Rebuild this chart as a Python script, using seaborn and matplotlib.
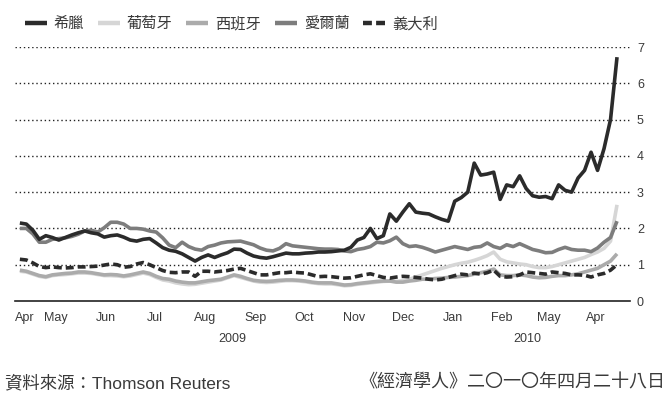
import numpy as np
import pandas as pd
import matplotlib
matplotlib.use("Agg")
import matplotlib.pyplot as plt
from matplotlib.lines import Line2D
import seaborn as sns

# ---------------- data ----------------
dates = pd.date_range("2009-04-24", "2010-04-27", freq="4D")

greece = [2.15, 2.12, 1.95, 1.70, 1.80, 1.75, 1.68, 1.75, 1.82, 1.88,
          1.93, 1.88, 1.85, 1.76, 1.80, 1.82, 1.76, 1.68, 1.65, 1.70,
          1.72, 1.60, 1.47, 1.40, 1.37, 1.30, 1.20, 1.10, 1.20, 1.27,
          1.20, 1.27, 1.33, 1.43, 1.42, 1.32, 1.24, 1.20, 1.18, 1.22,
          1.27, 1.32, 1.30, 1.30, 1.32, 1.33, 1.35, 1.35, 1.36, 1.38,
          1.40, 1.48, 1.68, 1.75, 2.00, 1.72, 1.80, 2.40, 2.20, 2.45,
          2.68, 2.45, 2.42, 2.40, 2.32, 2.25, 2.20, 2.75, 2.85, 3.00,
          3.80, 3.47, 3.50, 3.55, 2.80, 3.20, 3.15, 3.45, 3.10, 2.90,
          2.86, 2.88, 2.82, 3.20, 3.05, 3.00, 3.39, 3.60, 4.10, 3.60,
          4.20, 5.00, 6.72]

portugal = [0.82, 0.80, 0.74, 0.68, 0.65, 0.70, 0.72, 0.73, 0.75, 0.77,
            0.77, 0.76, 0.73, 0.70, 0.70, 0.69, 0.67, 0.69, 0.73, 0.77,
            0.73, 0.65, 0.58, 0.55, 0.50, 0.47, 0.45, 0.46, 0.49, 0.52,
            0.55, 0.58, 0.64, 0.70, 0.65, 0.60, 0.55, 0.52, 0.51, 0.52,
            0.54, 0.56, 0.56, 0.55, 0.53, 0.50, 0.48, 0.47, 0.47, 0.45,
            0.42, 0.43, 0.46, 0.48, 0.50, 0.52, 0.54, 0.55, 0.54, 0.56,
            0.60, 0.66, 0.72, 0.78, 0.84, 0.90, 0.95, 1.00, 1.04, 1.07,
            1.12, 1.18, 1.25, 1.35, 1.15, 1.08, 1.05, 1.02, 1.00, 0.95,
            0.92, 0.92, 0.95, 1.00, 1.05, 1.10, 1.15, 1.20, 1.28, 1.35,
            1.45, 1.65, 2.65]

spain = [0.85, 0.82, 0.76, 0.70, 0.67, 0.72, 0.74, 0.76, 0.77, 0.80,
         0.80, 0.78, 0.75, 0.72, 0.73, 0.72, 0.69, 0.72, 0.76, 0.80,
         0.76, 0.68, 0.62, 0.60, 0.55, 0.52, 0.50, 0.50, 0.53, 0.56,
         0.58, 0.60, 0.66, 0.72, 0.68, 0.62, 0.57, 0.55, 0.54, 0.55,
         0.57, 0.58, 0.58, 0.57, 0.55, 0.52, 0.50, 0.50, 0.50, 0.47,
         0.44, 0.45, 0.48, 0.50, 0.52, 0.54, 0.55, 0.55, 0.52, 0.52,
         0.55, 0.57, 0.60, 0.60, 0.62, 0.63, 0.65, 0.66, 0.68, 0.70,
         0.74, 0.78, 0.82, 0.88, 0.72, 0.70, 0.70, 0.72, 0.70, 0.66,
         0.64, 0.65, 0.68, 0.70, 0.70, 0.72, 0.75, 0.80, 0.85, 0.90,
         1.00, 1.10, 1.30]

ireland = [2.00, 2.00, 1.85, 1.62, 1.62, 1.70, 1.72, 1.74, 1.78, 1.84,
           1.93, 1.95, 1.90, 2.02, 2.17, 2.17, 2.12, 2.00, 2.00, 1.98,
           1.93, 1.90, 1.74, 1.54, 1.47, 1.62, 1.50, 1.43, 1.40, 1.50,
           1.54, 1.60, 1.63, 1.64, 1.65, 1.60, 1.55, 1.46, 1.40, 1.38,
           1.45, 1.58, 1.52, 1.50, 1.48, 1.46, 1.44, 1.43, 1.43, 1.42,
           1.38, 1.36, 1.42, 1.45, 1.50, 1.62, 1.60, 1.66, 1.76, 1.58,
           1.50, 1.52, 1.48, 1.42, 1.35, 1.40, 1.45, 1.50, 1.46, 1.42,
           1.48, 1.50, 1.60, 1.50, 1.45, 1.55, 1.50, 1.58, 1.50, 1.42,
           1.38, 1.33, 1.34, 1.42, 1.48, 1.42, 1.40, 1.40, 1.36, 1.46,
           1.62, 1.75, 2.20]

italy = [1.15, 1.13, 1.05, 0.95, 0.92, 0.94, 0.92, 0.91, 0.92, 0.94,
         0.94, 0.95, 0.96, 0.99, 1.02, 1.00, 0.93, 0.95, 1.02, 1.06,
         1.00, 0.92, 0.84, 0.79, 0.78, 0.80, 0.80, 0.68, 0.82, 0.82,
         0.80, 0.82, 0.84, 0.88, 0.90, 0.84, 0.78, 0.72, 0.72, 0.75,
         0.78, 0.78, 0.80, 0.78, 0.77, 0.72, 0.67, 0.68, 0.67, 0.65,
         0.63, 0.64, 0.68, 0.72, 0.75, 0.70, 0.65, 0.63, 0.66, 0.68,
         0.67, 0.65, 0.63, 0.60, 0.58, 0.60, 0.65, 0.70, 0.74, 0.72,
         0.77, 0.74, 0.78, 0.85, 0.68, 0.66, 0.67, 0.72, 0.80, 0.78,
         0.76, 0.74, 0.80, 0.78, 0.76, 0.72, 0.72, 0.71, 0.66, 0.72,
         0.76, 0.85, 1.00]

series_names = ["希臘", "葡萄牙", "西班牙", "愛爾蘭", "義大利"]
month_ticks = ["2009-05-01", "2009-06-01", "2009-07-01", "2009-08-01",
               "2009-09-01", "2009-10-01", "2009-11-01", "2009-12-01",
               "2010-01-01", "2010-02-01", "2010-03-01", "2010-04-01"]
month_labels = ["Apr", "May", "Jun", "Jul", "Aug", "Sep", "Oct", "Nov",
                "Dec", "Jan", "Feb", "May", "Apr"]
label_dates = ["2009-04-27", "2009-05-16", "2009-06-16", "2009-07-16",
               "2009-08-16", "2009-09-16", "2009-10-16", "2009-11-16",
               "2009-12-16", "2010-01-16", "2010-02-15", "2010-03-16",
               "2010-04-14"]
y_ticks = [0, 1, 2, 3, 4, 5, 6, 7]
years = ["2009", "2010"]
source_text = "資料來源：Thomson Reuters"
credit_text = "《經濟學人》二〇一〇年四月二十八日"

# ---------------- style ----------------
sns.set_theme(style="white")
plt.rcParams["font.family"] = ["Liberation Sans", "Noto Sans CJK TC", "DejaVu Sans"]
txt_color = "#3a3a3a"

df = pd.DataFrame({"date": dates, "希臘": greece, "葡萄牙": portugal,
                   "西班牙": spain, "愛爾蘭": ireland, "義大利": italy})

fig = plt.figure(figsize=(6.72, 4.01), dpi=100)
ax = fig.add_axes([15 / 672, 100 / 401, 615 / 672, 254 / 401])

styles = {
    "希臘": dict(color="#2b2b2b", dashes=None, z=6),
    "葡萄牙": dict(color="#d6d6d6", dashes=None, z=2),
    "西班牙": dict(color="#ababab", dashes=None, z=3),
    "愛爾蘭": dict(color="#7d7d7d", dashes=None, z=4),
    "義大利": dict(color="#2b2b2b", dashes=(2.2, 1.1), z=5),
}
lw = 2.6
for name in ["葡萄牙", "西班牙", "愛爾蘭", "義大利", "希臘"]:
    st = styles[name]
    sns.lineplot(data=df, x="date", y=name, ax=ax, color=st["color"],
                 linewidth=lw, zorder=st["z"], legend=False)
    line = ax.lines[-1]
    line.set_solid_capstyle("butt")
    if st["dashes"] is not None:
        line.set_dashes(st["dashes"])
        line.set_dash_capstyle("butt")

# grid lines
for yv in y_ticks[1:]:
    ax.axhline(yv, color="#222222", linestyle=(0, (1, 2)), linewidth=1.0, zorder=1)

ax.set_ylim(0, 7)
ax.set_xlim(pd.Timestamp("2009-04-21"), pd.Timestamp("2010-05-05"))

for s in ["top", "left", "right"]:
    ax.spines[s].set_visible(False)
ax.spines["bottom"].set_color("#222222")
ax.spines["bottom"].set_linewidth(1.2)

ax.yaxis.tick_right()
ax.set_yticks(y_ticks)
ax.set_yticklabels([str(v) for v in y_ticks])
ax.tick_params(axis="y", length=0, pad=5, labelsize=9, labelcolor=txt_color)

ax.set_xticks([pd.Timestamp(d) for d in month_ticks])
ax.set_xticklabels([])
ax.tick_params(axis="x", which="major", direction="in", length=3, width=0.8,
               color="#222222")
ax.set_xticks([pd.Timestamp(d) for d in label_dates], minor=True)
ax.set_xticklabels(month_labels, minor=True)
ax.tick_params(axis="x", which="minor", length=0, pad=8, labelsize=9,
               labelcolor=txt_color)
# longer year-boundary tick
ax.xaxis.get_major_ticks()[8].tick1line.set_markersize(7)

ax.set_xlabel("")
ax.set_ylabel("")

fig.text(232 / 672, 1 - 339 / 401, years[0], ha="center", va="center",
         fontsize=9, color=txt_color)
fig.text(527 / 672, 1 - 339 / 401, years[1], ha="center", va="center",
         fontsize=9, color=txt_color)

# legend
handles = []
for name in series_names:
    st = styles[name]
    h = Line2D([0], [0], color=st["color"], linewidth=3.2,
               solid_capstyle="butt")
    if st["dashes"] is not None:
        h.set_dashes((2.0, 0.95))
        h.set_dash_capstyle("butt")
    handles.append(h)
fig.legend(handles, series_names, loc="upper left", bbox_to_anchor=(0.016, 0.993),
           ncol=5, frameon=False, fontsize=11, handlelength=1.45,
           handletextpad=0.45, columnspacing=0.9, labelcolor=txt_color)

fig.text(0.008, 1 - 383 / 401, source_text, ha="left", va="center",
         fontsize=12.5, color=txt_color)
fig.text(0.99, 1 - 383 / 401, credit_text, ha="right", va="center",
         fontsize=13, color=txt_color)

fig.savefig("out.png", dpi=100, facecolor="white")
